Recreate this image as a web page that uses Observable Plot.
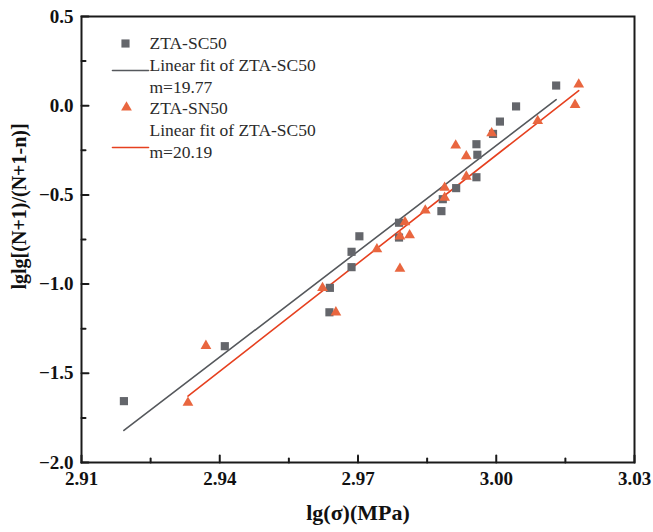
<!DOCTYPE html>
<html><head><meta charset="utf-8">
<script src="https://cdn.jsdelivr.net/npm/d3@7"></script>
<script src="https://cdn.jsdelivr.net/npm/@observablehq/plot@0.6"></script>
<style>body{margin:0;background:#fff} #chart{width:653px;height:532px}</style>
</head><body><div id="chart"></div>
<script>
// ZTA-SC50 data (lg σ, lglg[(N+1)/(N+1-n)])
const scX = [2.9192, 2.9411, 2.9638, 2.9639, 2.9686, 2.9686, 2.9703, 2.9789, 2.9789, 2.9881, 2.9884, 2.9913, 2.9957, 2.9959, 2.9957, 2.9993, 3.0008, 3.0043, 3.0130];
const scY = [-1.656, -1.348, -1.158, -1.021, -0.905, -0.819, -0.732, -0.656, -0.739, -0.591, -0.524, -0.462, -0.401, -0.275, -0.216, -0.158, -0.089, -0.004, 0.113];
// ZTA-SN50 data
const snX = [2.9331, 2.9370, 2.9623, 2.9652, 2.9741, 2.9791, 2.9791, 2.9802, 2.9812, 2.9846, 2.9888, 2.9888, 2.9912, 2.9935, 2.9935, 2.9990, 3.0090, 3.0171, 3.0179];
const snY = [-1.665, -1.346, -1.021, -1.158, -0.804, -0.914, -0.732, -0.653, -0.726, -0.587, -0.460, -0.516, -0.223, -0.283, -0.397, -0.154, -0.085, 0.005, 0.119];
// Linear fits
const fitSeries = ["ZTA-SC50", "ZTA-SN50"];
const fitSlope = [19.77, 20.19];
const fitIntercept = [-59.533, -60.847];
// Ticks
const xTicks = [2.91, 2.94, 2.97, 3.00, 3.03];
const xMinor = [2.925, 2.955, 2.985, 3.015];
const yTicks = [-2.0, -1.5, -1.0, -0.5, 0.0, 0.5];
const yMinor = [-1.75, -1.25, -0.75, -0.25, 0.25];
// Legend texts
const legendTexts = ["ZTA-SC50", "Linear fit of ZTA-SC50", "m=19.77", "ZTA-SN50", "Linear fit of ZTA-SC50", "m=20.19"];

const GRAY = "#64666b", GRAYLINE = "#55585c", ORANGE = "#e9663f", RED = "#e6401f", AXIS = "#1a1a1a";

const sc = scX.map((x, i) => ({x, y: scY[i]}));
const sn = snX.map((x, i) => ({x, y: snY[i]}));
const extents = [d3.extent(scX), d3.extent(snX)];
const fitTable = fitSeries.flatMap((s, i) => extents[i].map(x => ({series: s, x, y: fitSlope[i] * x + fitIntercept[i]})));

const tickShape = {draw(ctx, l) { ctx.moveTo(0, 0); ctx.lineTo(0, -l); }};
const font = "'Liberation Serif', 'Times New Roman', serif";
const legendDy = [27, 49, 71, 92, 114, 136];

const plot = Plot.plot({
  width: 653, height: 532,
  marginLeft: 81, marginRight: 19, marginTop: 16, marginBottom: 70,
  style: {fontFamily: font, background: "#fff", overflow: "visible"},
  x: {domain: [2.91, 3.03]},
  y: {domain: [-2.0, 0.5]},
  marks: [
    Plot.axisX({ticks: xTicks, tickSize: 0, tickPadding: 9, tickFormat: d3.format(".2f"), fontSize: 19, fontWeight: "bold", color: "#111", label: null}),
    Plot.axisY({ticks: yTicks, tickSize: 0, tickPadding: 8, tickFormat: d3.format(".1f"), fontSize: 19, fontWeight: "bold", color: "#111", label: null}),
    Plot.vector(xTicks, {x: d => d, y: () => -2.0, length: 7, anchor: "start", shape: tickShape, stroke: AXIS, strokeWidth: 2}),
    Plot.vector(xMinor, {x: d => d, y: () => -2.0, length: 4, anchor: "start", shape: tickShape, stroke: AXIS, strokeWidth: 2}),
    Plot.vector(yTicks, {x: () => 2.91, y: d => d, length: 7, rotate: 90, anchor: "start", shape: tickShape, stroke: AXIS, strokeWidth: 2}),
    Plot.vector(yMinor, {x: () => 2.91, y: d => d, length: 4, rotate: 90, anchor: "start", shape: tickShape, stroke: AXIS, strokeWidth: 2}),
    Plot.line(fitTable, {x: "x", y: "y", z: "series", stroke: d => d.series === "ZTA-SC50" ? GRAYLINE : RED, strokeWidth: 1.6}),
    Plot.dot(sc, {x: "x", y: "y", symbol: "square", r: 4.6, fill: GRAY, stroke: "none"}),
    Plot.dot(sn, {x: "x", y: "y", symbol: "triangle", r: 4, fill: ORANGE, stroke: "none"}),
    Plot.frame({stroke: AXIS, strokeWidth: 2}),
    // legend
    Plot.dot([0], {frameAnchor: "top-left", dx: 44, dy: 27, symbol: "square", r: 4.6, fill: GRAY, stroke: "none"}),
    Plot.vector([0], {frameAnchor: "top-left", dx: 31, dy: 54, length: 36, rotate: 90, anchor: "start", shape: tickShape, stroke: GRAYLINE, strokeWidth: 1.6}),
    Plot.dot([0], {frameAnchor: "top-left", dx: 45, dy: 91, symbol: "triangle", r: 4, fill: ORANGE, stroke: "none"}),
    Plot.vector([0], {frameAnchor: "top-left", dx: 31, dy: 131, length: 36, rotate: 90, anchor: "start", shape: tickShape, stroke: RED, strokeWidth: 1.6}),
    ...legendTexts.map((t, i) => Plot.text([t], {frameAnchor: "top-left", dx: 68, dy: legendDy[i], textAnchor: "start", lineAnchor: "middle", fontSize: 17.5, fill: "#2b2b2b"})),
    // axis labels
    Plot.text(["lg(σ)(MPa)"], {frameAnchor: "bottom", dy: 57, fontSize: 22, fontWeight: "bold", fill: "#111"}),
    Plot.text(["lglg[(N+1)/(N+1-n)]"], {frameAnchor: "left", dx: -62, dy: 50, rotate: -90, fontSize: 20, fontWeight: "bold", fill: "#111"})
  ]
});
document.getElementById("chart").appendChild(plot);
</script>
</body></html>
